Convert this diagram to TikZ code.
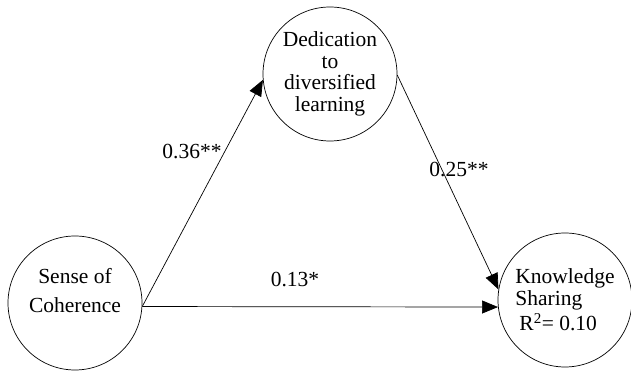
\documentclass[tikz,border=0pt]{standalone}
\usepackage{fontspec}
\setmainfont{Liberation Serif}
\usetikzlibrary{arrows.meta}
\begin{document}
\begin{tikzpicture}[x=1pt,y=1pt,
		var/.style={draw, circle, line width=0.7pt, inner sep=0pt, minimum size=134pt,
			font=\fontsize{21.5}{21.5}\selectfont},
		path/.style={line width=0.7pt, -{Triangle[length=16pt,width=13pt]}},
		coef/.style={font=\fontsize{21.5}{21.5}\selectfont}]
		\useasboundingbox (0,0) rectangle (631,371);
		\node[var, align=center, text depth=26pt, font=\fontsize{21.5}{29}\selectfont] (coh) at (75,68) {Sense of\\Coherence};
		\node[var, align=center] (ded) at (330,297) {Dedication\\to\\diversified\\learning};
		\node[var, align=left] (know) at (565,71) {Knowledge\\Sharing\\[2pt]\hspace{4pt}R\textsuperscript{2}= 0.10};
		\draw[path] (coh.-3) -- (ded.185);
		\draw[path] (coh.-3) -- (know.186);
		\draw[path] (ded.-1) -- (know.171);
		\node[coef] (a) at (192,219) {0.36**};
		\node[coef] (b) at (459,201) {0.25**};
		\node[coef] (c) at (295,91) {0.13*};
	\end{tikzpicture}
\end{document}
